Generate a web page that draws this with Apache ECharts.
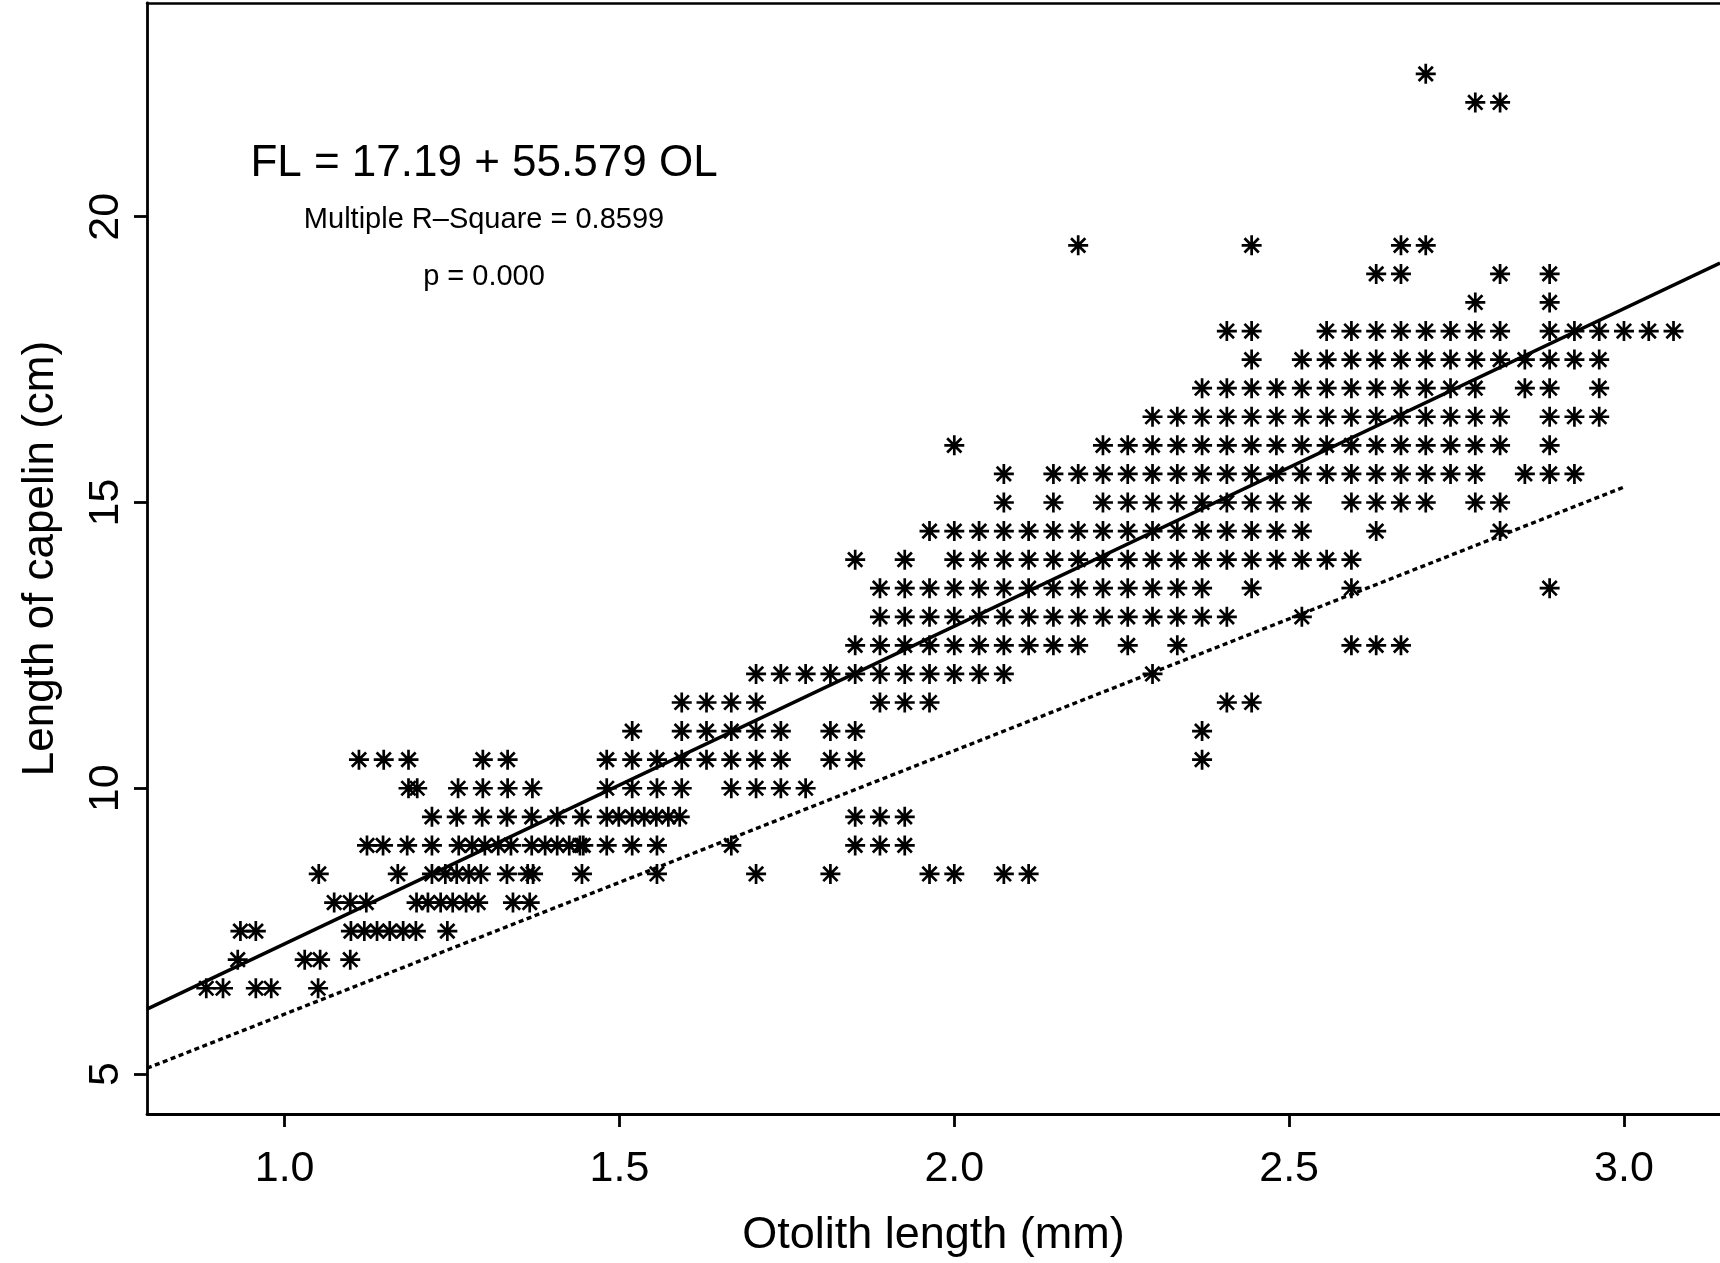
<!DOCTYPE html>
<html><head><meta charset="utf-8">
<script src="https://cdn.jsdelivr.net/npm/echarts@6/dist/echarts.min.js"></script>
<style>html,body{margin:0;padding:0;background:#fff}#c{width:1720px;height:1263px}</style>
</head><body><div id="c"></div>
<script>
// ---- tick labels ----
const xTicks = [1.0, 1.5, 2.0, 2.5, 3.0];
const yTicks = [5, 10, 15, 20];

// ---- observations: each row = one fork length (cm), list of otolith lengths (mm) ----
const r22_5 = [2.704];
const r22_0 = [2.778, 2.815];
const r19_5 = [2.185, 2.444, 2.667, 2.704];
const r19_0 = [2.630, 2.667, 2.815, 2.889];
const r18_5 = [2.778, 2.889];
const r18_0 = [2.407, 2.444, 2.556, 2.593, 2.630, 2.667, 2.704, 2.741, 2.778, 2.815, 2.889, 2.926, 2.963, 3.000, 3.037, 3.074];
const r17_5 = [2.444, 2.519, 2.556, 2.593, 2.630, 2.667, 2.704, 2.741, 2.778, 2.815, 2.852, 2.889, 2.926, 2.963];
const r17_0 = [2.370, 2.407, 2.444, 2.481, 2.519, 2.556, 2.593, 2.630, 2.667, 2.704, 2.741, 2.778, 2.852, 2.889, 2.963];
const r16_5 = [2.296, 2.333, 2.370, 2.407, 2.444, 2.481, 2.519, 2.556, 2.593, 2.630, 2.667, 2.704, 2.741, 2.778, 2.815, 2.889, 2.926, 2.963];
const r16_0 = [2.000, 2.222, 2.259, 2.296, 2.333, 2.370, 2.407, 2.444, 2.481, 2.519, 2.556, 2.593, 2.630, 2.667, 2.704, 2.741, 2.778, 2.815, 2.889];
const r15_5 = [2.074, 2.148, 2.185, 2.222, 2.259, 2.296, 2.333, 2.370, 2.407, 2.444, 2.481, 2.519, 2.556, 2.593, 2.630, 2.667, 2.704, 2.741, 2.778, 2.852, 2.889, 2.926];
const r15_0 = [2.074, 2.148, 2.222, 2.259, 2.296, 2.333, 2.370, 2.407, 2.444, 2.481, 2.519, 2.593, 2.630, 2.667, 2.704, 2.778, 2.815];
const r14_5 = [1.963, 2.000, 2.037, 2.074, 2.111, 2.148, 2.185, 2.222, 2.259, 2.296, 2.333, 2.370, 2.407, 2.444, 2.481, 2.519, 2.630, 2.815];
const r14_0 = [1.852, 1.926, 2.000, 2.037, 2.074, 2.111, 2.148, 2.185, 2.222, 2.259, 2.296, 2.333, 2.370, 2.407, 2.444, 2.481, 2.519, 2.556, 2.593];
const r13_5 = [1.889, 1.926, 1.963, 2.000, 2.037, 2.074, 2.111, 2.148, 2.185, 2.222, 2.259, 2.296, 2.333, 2.370, 2.444, 2.593, 2.889];
const r13_0 = [1.889, 1.926, 1.963, 2.000, 2.037, 2.074, 2.111, 2.148, 2.185, 2.222, 2.259, 2.296, 2.333, 2.370, 2.407, 2.519];
const r12_5 = [1.852, 1.889, 1.926, 1.963, 2.000, 2.037, 2.074, 2.111, 2.148, 2.185, 2.259, 2.333, 2.593, 2.630, 2.667];
const r12_0 = [1.704, 1.741, 1.778, 1.815, 1.852, 1.889, 1.926, 1.963, 2.000, 2.037, 2.074, 2.296];
const r11_5 = [1.593, 1.630, 1.667, 1.704, 1.889, 1.926, 1.963, 2.407, 2.444];
const r11_0 = [1.519, 1.593, 1.630, 1.667, 1.704, 1.741, 1.815, 1.852, 2.370];
const r10_5 = [1.111, 1.148, 1.185, 1.296, 1.333, 1.481, 1.519, 1.556, 1.593, 1.630, 1.667, 1.704, 1.741, 1.815, 1.852, 2.370];
const r10_0 = [1.185, 1.198, 1.259, 1.296, 1.333, 1.370, 1.481, 1.519, 1.556, 1.593, 1.667, 1.704, 1.741, 1.778];
const r9_5 = [1.220, 1.257, 1.295, 1.332, 1.369, 1.407, 1.444, 1.481, 1.499, 1.519, 1.537, 1.555, 1.573, 1.590, 1.852, 1.889, 1.926];
const r9_0 = [1.123, 1.147, 1.183, 1.220, 1.260, 1.280, 1.299, 1.319, 1.338, 1.369, 1.389, 1.407, 1.425, 1.441, 1.446, 1.481, 1.519, 1.556, 1.667, 1.852, 1.889, 1.926];
const r8_5 = [1.051, 1.169, 1.220, 1.240, 1.257, 1.275, 1.293, 1.332, 1.363, 1.371, 1.444, 1.556, 1.704, 1.815, 1.963, 2.000, 2.074, 2.111];
const r8_0 = [1.074, 1.098, 1.122, 1.197, 1.214, 1.233, 1.251, 1.271, 1.289, 1.341, 1.366];
const r7_5 = [0.934, 0.957, 1.099, 1.119, 1.138, 1.157, 1.177, 1.196, 1.243];
const r7_0 = [0.930, 1.030, 1.053, 1.098];
const r6_5 = [0.883, 0.908, 0.957, 0.980, 1.050];

const rowLengths = [22.5, 22.0, 19.5, 19.0, 18.5, 18.0, 17.5, 17.0, 16.5, 16.0, 15.5, 15.0, 14.5, 14.0, 13.5, 13.0, 12.5, 12.0, 11.5, 11.0, 10.5, 10.0, 9.5, 9.0, 8.5, 8.0, 7.5, 7.0, 6.5];
const rowOtoliths = [r22_5, r22_0, r19_5, r19_0, r18_5, r18_0, r17_5, r17_0, r16_5, r16_0, r15_5, r15_0, r14_5, r14_0, r13_5, r13_0, r12_5, r12_0, r11_5, r11_0, r10_5, r10_0, r9_5, r9_0, r8_5, r8_0, r7_5, r7_0, r6_5];

// ---- regression FL(cm) = a + b*OL(mm)  (17.19 mm + 55.579 OL) ----
const regCoef = [1.719, 5.5579];
// ---- dotted reference line endpoints ----
const refLineX = [0.7945, 3.0];
const refLineY = [5.10, 15.27];

// axis extents
const X_MIN = 0.7945, X_MAX = 3.1434, Y_MIN = 4.30, Y_MAX = 23.74;

const points = [];
rowLengths.forEach((fl, i) => rowOtoliths[i].forEach(ol => points.push([ol, fl])));
const regLine = [X_MIN, X_MAX].map(x => [x, regCoef[0] + regCoef[1] * x]);
const refLine = refLineX.map((x, i) => [x, refLineY[i]]);

const FONT = '"Liberation Sans", Arial, Helvetica, sans-serif';
const star = 'path://M0,-14L0,14M-14,0L14,0M-10,-10L10,10M-10,10L10,-10';

const chart = echarts.init(document.getElementById('c'), null, {renderer: 'canvas', width: 1720, height: 1263});
chart.setOption({
  animation: false,
  backgroundColor: '#fff',
  grid: {left: 147, right: 0, top: 3, bottom: 148, containLabel: false},
  xAxis: [{
    type: 'value', min: X_MIN, max: X_MAX,
    name: 'Otolith length (mm)', nameLocation: 'middle', nameGap: 99,
    nameTextStyle: {fontFamily: FONT, fontSize: 45, color: '#000'},
    axisLine: {show: true, onZero: false, lineStyle: {color: '#000', width: 2.8}},
    axisTick: {show: true, inside: false, length: 13, customValues: xTicks, lineStyle: {color: '#000', width: 2.8}},
    axisLabel: {show: true, margin: 34, customValues: xTicks, fontFamily: FONT, fontSize: 43, color: '#000',
      formatter: v => v.toFixed(1)},
    splitLine: {show: false}
  }, {
    type: 'value', position: 'top', min: X_MIN, max: X_MAX,
    axisLine: {show: true, onZero: false, lineStyle: {color: '#000', width: 2.5}},
    axisTick: {show: false}, axisLabel: {show: false}, splitLine: {show: false}
  }],
  yAxis: {
    type: 'value', min: Y_MIN, max: Y_MAX,
    name: 'Length of capelin (cm)', nameLocation: 'middle', nameGap: 84, nameRotate: 90,
    nameTextStyle: {fontFamily: FONT, fontSize: 44, color: '#000'},
    axisLine: {show: true, onZero: false, lineStyle: {color: '#000', width: 2.8}},
    axisTick: {show: true, inside: false, length: 13, customValues: yTicks, lineStyle: {color: '#000', width: 2.8}},
    axisLabel: {show: true, margin: 19, rotate: 90, customValues: yTicks, fontFamily: FONT, fontSize: 43, color: '#000'},
    splitLine: {show: false}
  },
  series: [{
    type: 'line', data: regLine, showSymbol: false, symbol: 'none', silent: true,
    lineStyle: {color: '#000', width: 3.4}, z: 2
  }, {
    type: 'line', data: refLine, showSymbol: false, symbol: 'none', silent: true,
    lineStyle: {color: '#000', width: 3.4, type: [5, 3.5]}, z: 2
  }, {
    type: 'scatter', data: points, symbol: star, symbolSize: 20,
    itemStyle: {color: 'rgba(0,0,0,0)', borderColor: '#000', borderWidth: 2.7, opacity: 1}, z: 3
  }],
  graphic: [
    {type: 'text', x: 484, y: 164, style: {text: 'FL = 17.19 + 55.579 OL', fontFamily: FONT, fontSize: 44, fill: '#000', align: 'center', verticalAlign: 'middle'}},
    {type: 'text', x: 484, y: 220, style: {text: 'Multiple R\u2013Square = 0.8599', fontFamily: FONT, fontSize: 29, fill: '#000', align: 'center', verticalAlign: 'middle'}},
    {type: 'text', x: 484, y: 277, style: {text: 'p = 0.000', fontFamily: FONT, fontSize: 29, fill: '#000', align: 'center', verticalAlign: 'middle'}}
  ]
});
</script></body></html>
